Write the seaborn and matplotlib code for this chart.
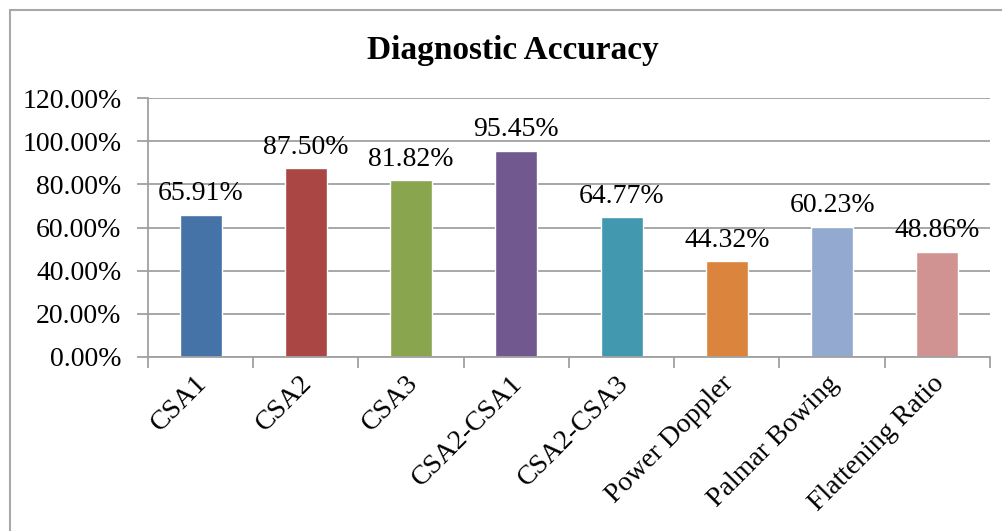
import matplotlib
matplotlib.use("Agg")
import matplotlib.pyplot as plt
import matplotlib.transforms as mtransforms
import seaborn as sns
import pandas as pd
from matplotlib.patches import Rectangle
from matplotlib.ticker import FuncFormatter

categories = ["CSA1", "CSA2", "CSA3", "CSA2-CSA1", "CSA2-CSA3", "Power Doppler", "Palmar Bowing", "Flattening Ratio"]
accuracy = [65.91, 87.50, 81.82, 95.45, 64.77, 44.32, 60.23, 48.86]
colors = ["#4572A7", "#AA4643", "#89A54E", "#71588F", "#4198AF", "#DB843D", "#93A9CF", "#D19392"]
yticks = [0, 20, 40, 60, 80, 100, 120]

sns.set_theme(style="white")
plt.rcParams["font.family"] = ["Liberation Serif", "DejaVu Serif"]
plt.rcParams["text.color"] = "black"
plt.rcParams["xtick.labelcolor"] = "black"
plt.rcParams["ytick.labelcolor"] = "black"

df = pd.DataFrame({"cat": categories, "acc": accuracy})

fig = plt.figure(figsize=(10.03, 5.31), dpi=100)
W, H = 1003, 531
ax = fig.add_axes([148 / W, 1 - 357 / H, (990 - 148) / W, (357 - 98) / H])

sns.barplot(data=df, x="cat", y="acc", hue="cat", palette=colors, legend=False,
            width=0.4, ax=ax, saturation=1)

ax.set_ylim(0, 120)
ax.set_xlim(-0.5, len(categories) - 0.5)
ax.set_yticks(yticks)
ax.yaxis.set_major_formatter(FuncFormatter(lambda v, p: f"{v:.2f}%"))
ax.grid(axis="y", color="#A0A0A0", linewidth=1.3)
ax.set_axisbelow(True)
for s in ["top", "right"]:
    ax.spines[s].set_visible(False)
for s in ["left", "bottom"]:
    ax.spines[s].set_color("#A0A0A0")
    ax.spines[s].set_linewidth(1.3)
ax.set_xlabel("")
ax.set_ylabel("")

ax.tick_params(axis="y", labelsize=20, length=8, width=1.3, color="#A0A0A0",
               labelcolor="black", left=True, pad=11)
ax.set_xticks(range(len(categories)))
ax.set_xticklabels(categories, rotation=45, ha="right", rotation_mode="anchor",
                   fontsize=20, color="black")
ax.tick_params(axis="x", length=0, pad=10)
offset = mtransforms.ScaledTranslation(-6 / 100, 0, fig.dpi_scale_trans)
for lbl in ax.get_xticklabels():
    lbl.set_transform(lbl.get_transform() + offset)
ax.set_xticks([i - 0.5 for i in range(len(categories) + 1)], minor=True)
ax.tick_params(axis="x", which="minor", length=8, width=1.3, color="#A0A0A0", bottom=True)

for i, v in enumerate(accuracy):
    ax.text(i, v + 4, f"{v:.2f}%", ha="center", va="bottom", fontsize=20, color="black")

fig.text(513 / W, 1 - 50 / H, "Diagnostic Accuracy", ha="center", va="center",
         fontsize=24, fontweight="bold", color="black")

fig.patches.append(Rectangle((10 / W, -0.1), 1.2, 1 - 10 / H + 0.1, transform=fig.transFigure,
                             fill=False, edgecolor="#A8A8A8", linewidth=1.5))

fig.savefig("out.png", dpi=100)
